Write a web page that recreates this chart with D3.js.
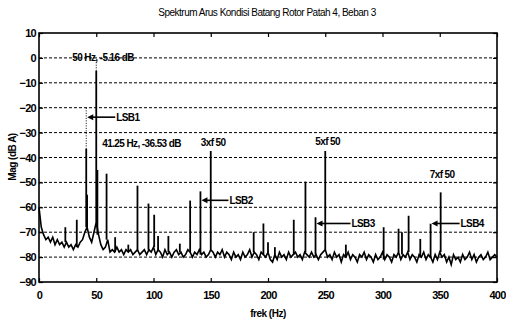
<!DOCTYPE html>
<meta charset="utf-8">
<head>
    <title>Spektrum Arus</title>
    <script src="https://d3js.org/d3.v7.min.js"></script>
    <style>
        body { margin: 0; background: #fff; }
        text { font-family: "Liberation Sans Narrow", "Liberation Sans", Arial, sans-serif; fill: #000; }
    </style>
</head>

<body>
    <div id="svg-container"></div>
</body>

<script>

const width = 506;
const height = 322;
const margin = { top: 33, right: 9, bottom: 40, left: 39 };

const title = "Spektrum Arus Kondisi Batang Rotor Patah 4, Beban 3";
const xLabel = "frek (Hz)";
const yLabel = "Mag (dB A)";

const xTicks = [0, 50, 100, 150, 200, 250, 300, 350, 400];
const yTicks = [10, 0, -10, -20, -30, -40, -50, -60, -70, -80, -90];

// noise floor read every 2 Hz, 0..400 Hz
const floorStepHz = 2;
const floorDb = [
    -60, -68, -71, -73, -72, -74, -72, -75, -73, -75,
    -74, -76, -74, -76, -75, -77, -75, -76, -74, -73,
    -70, -68, -72, -74, -70, -66, -71, -75, -77, -76,
    -73, -78, -77, -78, -76, -78, -77, -79, -77, -78,
    -77, -79, -78, -77, -79, -78, -77, -79, -77, -78,
    -76, -79, -77, -78, -80, -77, -79, -78, -80, -78,
    -77, -79, -78, -80, -79, -77, -78, -80, -78, -79,
    -77, -79, -78, -80, -79, -77, -78, -80, -78, -79,
    -77, -80, -78, -79, -81, -78, -80, -79, -81, -78,
    -80, -79, -77, -80, -78, -79, -81, -78, -79, -80,
    -78, -81, -82, -79, -81, -78, -80, -79, -81, -78,
    -80, -79, -78, -80, -79, -81, -78, -79, -80, -78,
    -80, -79, -81, -79, -78, -77, -80, -79, -81, -78,
    -80, -79, -82, -79, -80, -78, -81, -79, -80, -82,
    -79, -80, -78, -81, -79, -80, -82, -79, -81, -80,
    -78, -81, -79, -80, -82, -79, -80, -78, -81, -79,
    -80, -78, -81, -79, -80, -82, -79, -80, -78, -81,
    -79, -80, -82, -79, -81, -78, -80, -79, -82, -80,
    -83, -79, -81, -80, -82, -79, -81, -80, -78, -81,
    -79, -82, -80, -79, -81, -80, -78, -81, -80, -79,
    -80
];

// spectral lines
const peakHz = [23, 33, 41.25, 42, 50, 51, 59, 66.5, 78, 86,
                95.6, 100.6, 104, 113, 123, 132, 141, 150, 187.5, 196,
                200, 206, 222.5, 232.7, 241.5, 250, 268, 301, 314, 317,
                322.8, 333, 342, 350.8];
const peakDb = [-68, -65, -36.53, -55, -5.16, -45, -46.5, -72, -75, -51.3,
                -58.5, -63, -71.5, -71.5, -74.6, -57.3, -53.6, -37.4, -70, -66.5,
                -74, -76, -65, -49.7, -64, -37.4, -75, -68, -68.6, -70,
                -63.4, -72.7, -66.6, -54];

const sideBandNames = ["LSB1", "LSB2", "LSB3", "LSB4"];
const sideBandHz = [41.25, 141, 241.5, 342];
const sideBandArrowDb = [-23.8, -57.2, -66.5, -66.5];

const harmonicNames = ["3xf 50", "5xf 50", "7xf 50"];
const harmonicHz = [150, 250, 350];
const harmonicLabelDb = [-33.9, -33.5, -47];

const tipTexts = ["50 Hz, -5.16 dB", "41.25 Hz, -36.53 dB"];
const tipHz = [50, 41.25];
const tipDb = [-5.16, -36.53];
const tipLabelDb = [0, -34.3];
const tipLineTopDb = [-1.5, -19.5];

const chartWidth = width - margin.left - margin.right;
const chartHeight = height - margin.top - margin.bottom;

const x = d3.scaleLinear().domain([0, 400]).range([0, chartWidth]);
const y = d3.scaleLinear().domain([-90, 10]).range([chartHeight, 0]);

const svg = d3.select("#svg-container")
              .append("svg")
                .attr("width", width)
                .attr("height", height);

const g = svg.append("g")
                .attr("transform", `translate(${margin.left},${margin.top})`);

// grid
g.append("g")
    .selectAll("line")
    .data(yTicks.slice(1, -1)).enter()
    .append("line")
        .attr("x1", 0).attr("x2", chartWidth)
        .attr("y1", d => y(d)).attr("y2", d => y(d))
        .attr("stroke", "#000")
        .attr("stroke-width", 1)
        .attr("stroke-dasharray", "3,2");

// axes with inward ticks
g.append("g")
    .attr("transform", `translate(0,${chartHeight})`)
    .call(d3.axisBottom(x).tickValues(xTicks).tickSizeInner(-4).tickSizeOuter(0).tickPadding(9));
g.append("g")
    .call(d3.axisLeft(y).tickValues(yTicks).tickSizeInner(-4).tickSizeOuter(0).tickPadding(3));
g.append("g")
    .call(d3.axisTop(x).tickValues(xTicks).tickSizeInner(-4).tickSizeOuter(0).tickFormat(""));
g.append("g")
    .attr("transform", `translate(${chartWidth},0)`)
    .call(d3.axisRight(y).tickValues(yTicks).tickSizeInner(-4).tickSizeOuter(0).tickFormat(""));

g.selectAll(".domain").remove();
g.selectAll(".tick line").attr("stroke", "#000").attr("stroke-width", 1.2);
g.selectAll(".tick text")
    .style("font-family", '"Liberation Sans Narrow", "Liberation Sans", Arial, sans-serif')
    .style("font-size", "11px")
    .style("font-weight", "bold")
    .style("letter-spacing", "-0.7px");

// box
g.append("rect")
    .attr("width", chartWidth)
    .attr("height", chartHeight)
    .attr("fill", "none")
    .attr("stroke", "#000")
    .attr("stroke-width", 1.6);

// noise floor trace
const line = d3.line()
    .x((d, i) => x(i * floorStepHz))
    .y(d => y(d));

g.append("path")
    .datum(floorDb)
    .attr("d", line)
    .attr("fill", "none")
    .attr("stroke", "#000")
    .attr("stroke-width", 1.6)
    .attr("stroke-linejoin", "miter");

// spectral lines
g.append("g")
    .selectAll("line")
    .data(peakHz).enter()
    .append("line")
        .attr("x1", d => x(d)).attr("x2", d => x(d))
        .attr("y1", d => y(floorDb[Math.round(d / floorStepHz)]))
        .attr("y2", (d, i) => y(peakDb[i]))
        .attr("stroke", "#000")
        .attr("stroke-width", 1.8);

// data tips
tipHz.forEach(function(hz, i) {
    g.append("line")
        .attr("x1", x(hz)).attr("x2", x(hz))
        .attr("y1", y(tipDb[i])).attr("y2", y(tipLineTopDb[i]))
        .attr("stroke", "#000")
        .attr("stroke-width", 1)
        .attr("stroke-dasharray", "1,1.5");
});

const tipOffsets = [-24, 16];
g.selectAll(".tip")
    .data(tipTexts).enter()
    .append("text")
        .attr("class", "tip")
        .attr("x", (d, i) => x(tipHz[i]) + tipOffsets[i])
        .attr("y", (d, i) => y(tipLabelDb[i]))
        .attr("dy", "0.35em")
        .style("font-size", "10px")
        .style("font-weight", "bold")
        .style("letter-spacing", "-0.6px")
        .text(d => d);

// harmonic labels
g.selectAll(".harm")
    .data(harmonicNames).enter()
    .append("text")
        .attr("class", "harm")
        .attr("x", (d, i) => x(harmonicHz[i]) - 10)
        .attr("y", (d, i) => y(harmonicLabelDb[i]))
        .attr("dy", "0.35em")
        .style("font-size", "10px")
        .style("font-weight", "bold")
        .style("letter-spacing", "-0.6px")
        .text(d => d);

// sideband arrows
const arrowLens = [28, 27, 34, 28];
sideBandNames.forEach(function(name, i) {
    const tipX = x(sideBandHz[i]) + 1;
    const ay = y(sideBandArrowDb[i]);
    const endX = tipX + arrowLens[i];
    g.append("line")
        .attr("x1", tipX + 4).attr("x2", endX)
        .attr("y1", ay).attr("y2", ay)
        .attr("stroke", "#000")
        .attr("stroke-width", 1.6);
    g.append("path")
        .attr("d", `M${tipX},${ay} L${tipX + 6},${ay - 3} L${tipX + 6},${ay + 3} Z`)
        .attr("fill", "#000");
    g.append("text")
        .attr("x", endX + 1)
        .attr("y", ay)
        .attr("dy", "0.35em")
        .style("font-size", "10px")
        .style("font-weight", "bold")
        .style("letter-spacing", "-0.6px")
        .text(name);
});

// titles
svg.append("text")
    .attr("x", 267)
    .attr("y", 12)
    .attr("dy", "0.35em")
    .attr("text-anchor", "middle")
    .style("font-size", "10px")
    .style("letter-spacing", "-0.5px")
    .text(title);

svg.append("text")
    .attr("x", 268)
    .attr("y", 313)
    .attr("dy", "0.35em")
    .attr("text-anchor", "middle")
    .style("font-size", "10px")
    .style("font-weight", "bold")
    .style("letter-spacing", "-0.5px")
    .text(xLabel);

svg.append("text")
    .attr("transform", "translate(12,157) rotate(-90)")
    .attr("dy", "0.35em")
    .attr("text-anchor", "middle")
    .style("font-size", "10px")
    .style("font-weight", "bold")
    .style("letter-spacing", "-0.5px")
    .text(yLabel);

</script>
